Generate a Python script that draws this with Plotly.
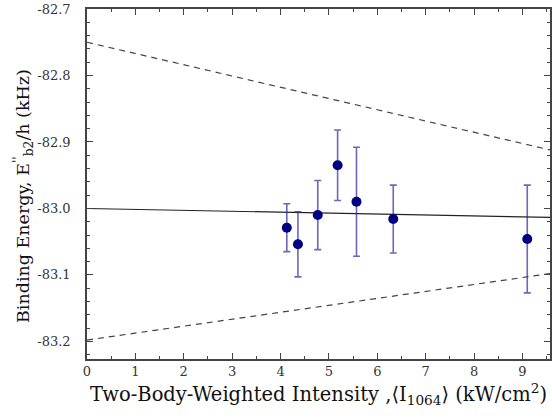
import plotly.graph_objects as go

# data
intensity = [4.13, 4.36, 4.77, 5.18, 5.57, 6.33, 9.10]
energy = [-83.029, -83.054, -83.010, -82.935, -82.990, -83.016, -83.046]
energy_err = [0.036, 0.049, 0.052, 0.053, 0.082, 0.051, 0.081]

line_x = [0.0, 9.57]
fit_y = [-83.000, -83.0135]
upper_y = [-82.750, -82.912]
lower_y = [-83.198, -83.098]

x_ticks = list(range(0, 10))
y_ticks = [-82.7, -82.8, -82.9, -83.0, -83.1, -83.2]

FONT = "DejaVu Serif"

fig = go.Figure()
fig.add_trace(go.Scatter(x=line_x, y=upper_y, mode="lines",
                         line=dict(color="#444444", width=1.2, dash="6px,5px"),
                         showlegend=False, hoverinfo="skip"))
fig.add_trace(go.Scatter(x=line_x, y=lower_y, mode="lines",
                         line=dict(color="#444444", width=1.2, dash="6px,5px"),
                         showlegend=False, hoverinfo="skip"))
fig.add_trace(go.Scatter(x=line_x, y=fit_y, mode="lines",
                         line=dict(color="#222222", width=1.1),
                         showlegend=False, hoverinfo="skip"))
fig.add_trace(go.Scatter(x=intensity, y=energy, mode="markers",
                         marker=dict(color="#000080", size=10),
                         error_y=dict(type="data", array=energy_err, visible=True,
                                      color="rgba(40,40,160,0.7)", thickness=1.6, width=3.5),
                         showlegend=False))

axis_common = dict(
    showline=True, linecolor="#444444", linewidth=1.5, mirror="ticks",
    ticks="inside", ticklen=6, tickwidth=1.3, tickcolor="#444444",
    showgrid=False, zeroline=False, automargin=False,
    tickfont=dict(family=FONT, size=13, color="#333333"),
)

fig.update_xaxes(
    range=[0, 9.57], tickvals=x_ticks, ticktext=[str(t) for t in x_ticks],
    minor=dict(ticks="inside", ticklen=3, tickwidth=1, tickcolor="#444444", dtick=0.5, showgrid=False),
    title=dict(text="Two-Body-Weighted Intensity ,⟨I<sub>1064</sub>⟩ (kW/cm<sup>2</sup>)",
               font=dict(family=FONT, size=19.5, color="#111111"), standoff=9),
    **axis_common,
)
fig.update_yaxes(
    range=[-83.2265, -82.7], tickvals=y_ticks, ticktext=[f"{t:.1f}" for t in y_ticks],
    minor=dict(ticks="inside", ticklen=3, tickwidth=1, tickcolor="#444444", dtick=0.02, tick0=-82.7, showgrid=False),
    ticklabelstandoff=12,
    **axis_common,
)

fig.add_annotation(
    text="Binding Energy, E<sup>''</sup><sub>b2</sub>/h (kHz)",
    xref="paper", yref="paper", x=0, y=0.5,
    xanchor="center", yanchor="middle", xshift=-64, yshift=-12,
    textangle=-90, showarrow=False,
    font=dict(family=FONT, size=17.5, color="#111111"),
)

fig.update_layout(
    width=552, height=420,
    margin=dict(l=87, r=2, t=9, b=61),
    paper_bgcolor="white", plot_bgcolor="white",
    font=dict(family=FONT),
)

fig.write_html("out.html", config={"displayModeBar": False},
               post_script="document.body.style.margin='0';")
